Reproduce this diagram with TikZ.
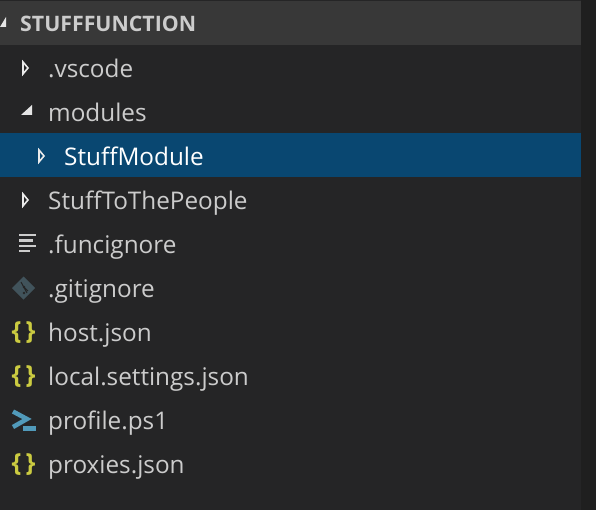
\documentclass[tikz,border=0pt]{standalone}
\usepackage{fontspec}
\setmainfont{Open Sans}
\definecolor{panel}{HTML}{252526}
\definecolor{strip}{HTML}{1F1F1F}
\definecolor{headbg}{HTML}{383838}
\definecolor{sel}{HTML}{094771}
\definecolor{txt}{HTML}{CCCCCC}
\definecolor{ylw}{HTML}{CBCB41}
\definecolor{psb}{HTML}{519ABA}
\definecolor{gitc}{HTML}{41535B}
\tikzset{
  file/.style={anchor=base west,inner sep=0pt,text=txt,font=\fontsize{24.3}{28}\selectfont},
  selfile/.style={file,text=white},
  head/.style={anchor=base west,inner sep=0pt,text=txt,font=\fontsize{21.3}{24}\selectfont\bfseries},
  closedtri/.style={draw=white!92!black,line width=1.6pt,line join=miter},
  opentri/.style={fill=white!90!black},
  brace/.style={anchor=base,inner sep=0pt,text=ylw,font=\fontsize{25}{28}\selectfont\bfseries},
}
\begin{document}
\begin{tikzpicture}[x=1pt,y=-1pt]
\useasboundingbox (0,0) rectangle (596,510);
\fill[panel] (0,0) rectangle (596,510);
\fill[strip] (581,0) rectangle (596,510);
\fill[headbg] (0,1) rectangle (581,45);
\fill[sel] (0,133) rectangle (581,177);
% arrows
\fill[opentri] (0,27) -- (6,17) -- (6,27) -- cycle;
\draw[closedtri] (23,62) -- (28,68) -- (23,74) -- cycle;
\fill[opentri] (21,115) -- (32,105) -- (32,115) -- cycle;
\draw[closedtri] (39,150) -- (44,156) -- (39,162) -- cycle;
\draw[closedtri] (23,194) -- (28,200) -- (23,206) -- cycle;
% labels
\node[head] (root) at (20,32) {STUFFFUNCTION};
\node[file] (vscode) at (48,77.7) {.vscode};
\node[file] (modules) at (48,121.7) {modules};
\node[selfile] (stuffmodule) at (64,165.7) {StuffModule};
\node[file] (people) at (48,209.7) {StuffToThePeople};
\node[file] (funcignore) at (48,253.7) {.funcignore};
\node[file] (gitignore) at (48,297.7) {.gitignore};
\node[file] (host) at (48,341.7) {host.json};
\node[file] (local) at (48,385.7) {local.settings.json};
\node[file] (profile) at (48,429.7) {profile.ps1};
\node[file] (proxies) at (48,473.7) {proxies.json};
% funcignore icon
\fill[txt] (19,234) rectangle (36,236.5);
\fill[txt] (19,239.5) rectangle (33,242);
\fill[txt] (19,245) rectangle (36,247.5);
\fill[txt] (19,250) rectangle (30,252);
% gitignore icon
\fill[gitc] (23.5,276.5) -- (35,288) -- (23.5,299.5) -- (12,288) -- cycle;
\draw[panel,line width=1pt] (21,282) -- (27,293) (24,287) -- (28,291);
\fill[panel] (24,287) circle (1.3) (24,293) circle (1.3);
% json icons
\node[brace] (b1) at (23.5,339.5) {\{\,\}};
\node[brace] (b2) at (23.5,383.5) {\{\,\}};
\node[brace] (b3) at (23.5,471.5) {\{\,\}};
% powershell icon
\draw[psb,line width=4.5pt,line join=miter] (13,411.5) -- (27,419) -- (13,427);
\fill[psb] (23,426) rectangle (36,431);
\end{tikzpicture}
\end{document}
